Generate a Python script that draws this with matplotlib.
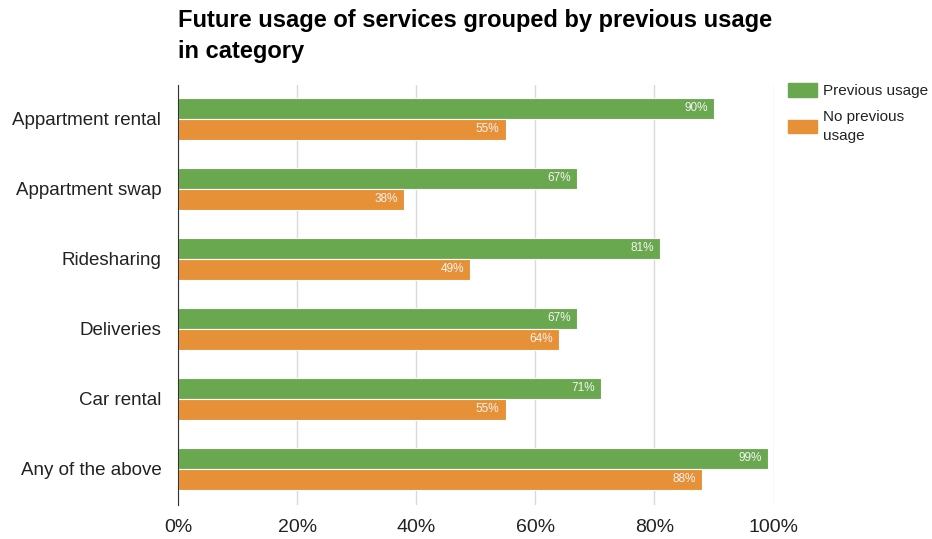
import numpy as np
import matplotlib.pyplot as plt
from matplotlib.patches import Patch

plt.rcParams['font.family'] = ['Liberation Sans', 'DejaVu Sans']

categories = ["Appartment rental", "Appartment swap", "Ridesharing",
              "Deliveries", "Car rental", "Any of the above"]
previous = [90, 67, 81, 67, 71, 99]
no_previous = [55, 38, 49, 64, 55, 88]
xticks = [0, 20, 40, 60, 80, 100]

green = "#6aa84f"
orange = "#e69138"

fig = plt.figure(figsize=(9.32, 5.39), dpi=100)
ax = fig.add_axes([0.191, 0.063, 0.639, 0.779])

y = np.arange(len(categories))
h = 0.3
b1 = ax.barh(y - h / 2, previous, height=h, color=green, edgecolor="white", linewidth=0.8)
b2 = ax.barh(y + h / 2, no_previous, height=h, color=orange, edgecolor="white", linewidth=0.8)

for bars, vals in [(b1, previous), (b2, no_previous)]:
    for bar, v in zip(bars, vals):
        ax.text(bar.get_width() - 1, bar.get_y() + bar.get_height() / 2, f"{v}%",
                ha="right", va="center", color="#f4f4f4", fontsize=8.5)

ax.set_ylim(len(categories) - 0.48, -0.48)
ax.set_xlim(0, 100)
ax.set_yticks(y)
ax.set_yticklabels(categories, fontsize=13.5, color="#222222")
ax.set_xticks(xticks)
ax.set_xticklabels([f"{t}%" for t in xticks], fontsize=14, color="#222222")
ax.tick_params(length=0)
ax.tick_params(axis="y", pad=12)
ax.tick_params(axis="x", pad=10)
ax.grid(axis="x", color="#d9d9d9", linewidth=1)
ax.set_axisbelow(True)
for s in ["top", "right", "bottom"]:
    ax.spines[s].set_visible(False)
ax.spines["left"].set_color("#333333")

fig.text(0.191, 0.983, "Future usage of services grouped by previous usage\nin category",
         fontsize=17, fontweight="bold", va="top", ha="left", linespacing=1.45)

handles = [Patch(color=green, label="Previous usage"),
           Patch(color=orange, label="No previous\nusage")]
leg = fig.legend(handles=handles, loc="upper left", bbox_to_anchor=(0.845, 0.846),
                 frameon=False, fontsize=11, handlelength=1.9, handleheight=1.0,
                 handletextpad=0.45, labelspacing=0.75, borderpad=0, borderaxespad=0)
for t in leg.get_texts():
    t.set_linespacing(1.5)
    t.set_color("#222222")

fig.savefig("out.png", dpi=100)
